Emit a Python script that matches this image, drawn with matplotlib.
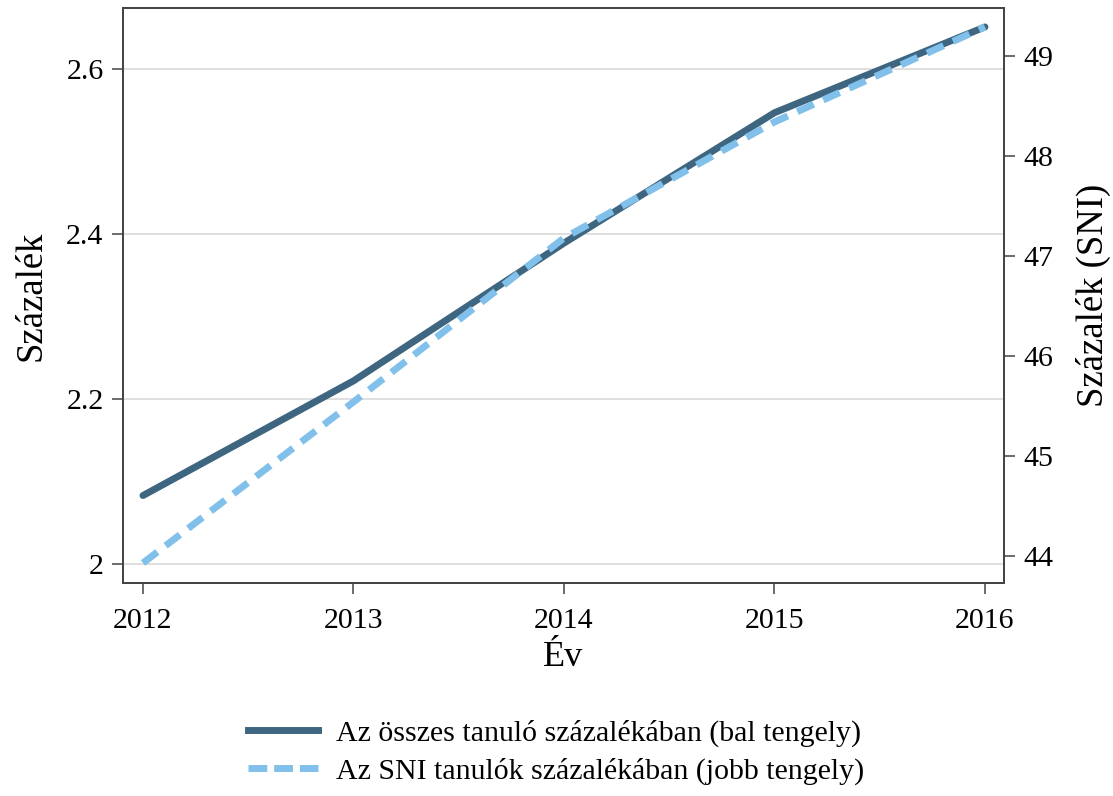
import matplotlib
matplotlib.use("Agg")
import matplotlib.pyplot as plt
from matplotlib.lines import Line2D

years = [2012, 2013, 2014, 2015, 2016]
osszes = [2.083, 2.222, 2.389, 2.547, 2.651]   # left axis
sni = [43.93, 45.54, 47.18, 48.34, 49.29]      # right axis

left_ticks = [2.0, 2.2, 2.4, 2.6]
left_ticklabels = ["2", "2.2", "2.4", "2.6"]
right_ticks = [44, 45, 46, 47, 48, 49]

label_all = "Az összes tanuló százalékában (bal tengely)"
label_sni = "Az SNI tanulók százalékában (jobb tengely)"

plt.rcParams['font.family'] = ['Liberation Serif', 'DejaVu Serif']

dark = '#3f6680'
light = '#80c0ea'
spine_col = '#444444'

fig = plt.figure(figsize=(11.13, 7.96), dpi=100)
ax = fig.add_axes([0.1105, 0.2676, 0.902 - 0.1105, 0.99 - 0.2676])
ax2 = ax.twinx()

ax.plot(years, osszes, color=dark, lw=5, solid_capstyle='round', zorder=3)
ax2.plot(years, sni, color=light, lw=5, dashes=(2.6, 1.5), dash_capstyle='butt', zorder=4)

ax.set_xlim(2011.905, 2016.09)
ax.set_ylim(1.977, 2.674)
ax2.set_ylim(43.73, 49.48)

ax.set_xticks(years)
ax.set_xticklabels([str(y) for y in years])
ax.set_yticks(left_ticks)
ax.set_yticklabels(left_ticklabels)
ax2.set_yticks(right_ticks)

ax.grid(axis='y', color='#d9d9d9', lw=1.2)
ax.set_axisbelow(True)

for a in (ax, ax2):
    for s in a.spines.values():
        s.set_color(spine_col)
        s.set_linewidth(1.3)
    a.tick_params(direction='out', length=8, width=1.1, color=spine_col,
                  labelsize=21.5, pad=6, labelcolor='black')
ax.tick_params(axis='x', pad=10)

ax.set_xlabel("Év", fontsize=26, labelpad=5)
ax.set_ylabel("Százalék", fontsize=26.5, labelpad=13)
ax2.set_ylabel("Százalék (SNI)", fontsize=26.5, labelpad=16)

handles = [Line2D([], [], color=dark, lw=5),
           Line2D([], [], color=light, lw=5, dashes=(2.7, 1.0))]
fig.legend(handles, [label_all, label_sni], loc='center left',
           bbox_to_anchor=(248 / 1113, 1 - 752 / 796), frameon=False, fontsize=21.5,
           handlelength=2.35, handletextpad=0.6, labelspacing=0.35,
           borderaxespad=0, borderpad=0)

fig.savefig("out.png", dpi=100, facecolor='white')
